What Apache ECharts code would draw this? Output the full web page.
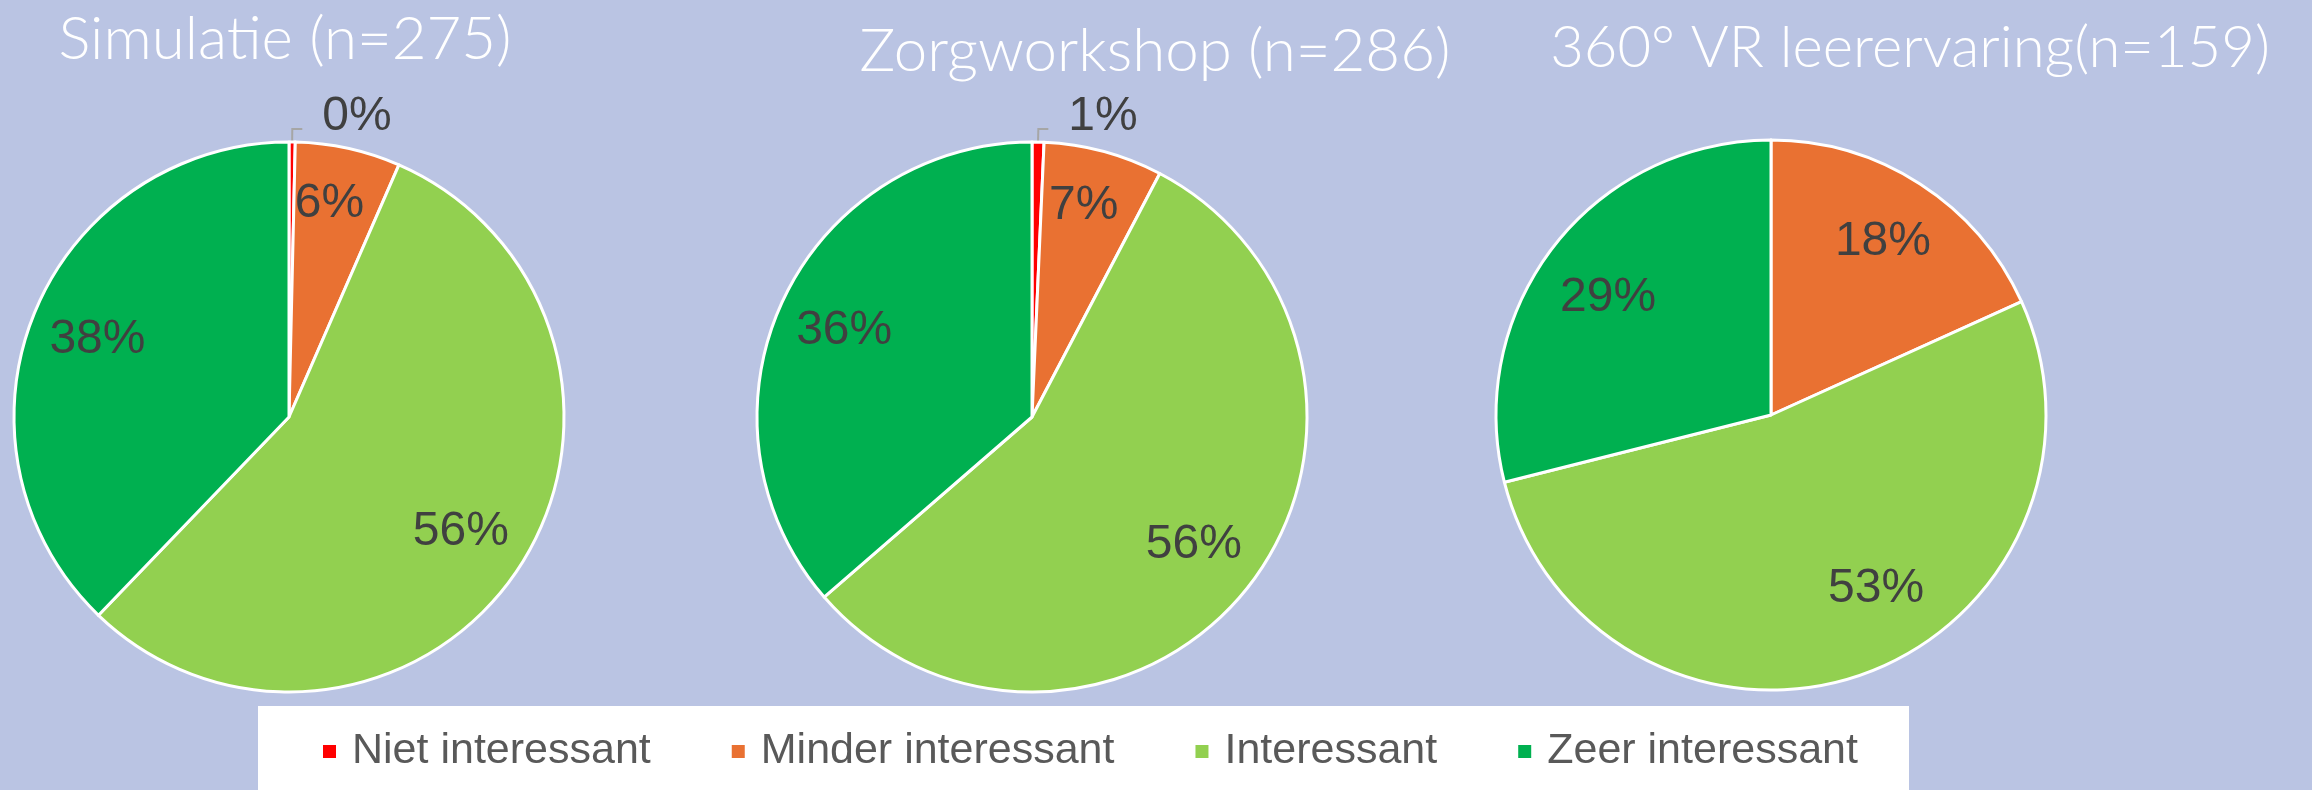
<!DOCTYPE html>
<html>
<head>
  <meta charset="utf8">
  <script src="https://cdn.jsdelivr.net/npm/echarts@6/dist/echarts.min.js"></script>
  <style>
    html, body { margin: 0; padding: 0; background: #BAC4E3; }
    #main { width: 2312px; height: 790px; }
  </style>
</head>
<body>
<div id="main"></div>
<script type="text/javascript">
  // categories and colours
  var categories = ['Niet interessant', 'Minder interessant', 'Interessant', 'Zeer interessant'];
  var colors = ['#FF0000', '#E97132', '#92D050', '#00B050'];

  // titles of the three pies
  var titles = ['Simulatie (n=275)', 'Zorgworkshop (n=286)', '360° VR leerervaring(n=159)'];

  // counts per category
  var simulatie = [1, 17, 153, 104];
  var zorgworkshop = [2, 20, 160, 104];
  var vrLeerervaring = [0, 29, 84, 46];

  var pieValues = [simulatie, zorgworkshop, vrLeerervaring];
  var centers = [[289, 417], [1032, 417], [1771, 415]];
  var titlePos = [[285, 42], [1155, 54], [1910, 51]];
  var R = 275;

  // small label nudges (pie, slice) -> [dx, dy], mimics Excel "best fit"
  var nudges = { '0-1': [-4, -12], '1-1': [-2, -12], '2-2': [37, -21], '2-3': [0, 10] };

  var labelFont = {
    color: '#404040',
    fontFamily: 'Liberation Sans, Arial, sans-serif',
    fontSize: 48
  };

  function pct(p) {
    return Math.round(p.percent) + '%';
  }

  var series = [];
  pieValues.forEach(function (vals, k) {
    var total = vals.reduce(function (a, b) { return a + b; }, 0);
    // main pie: slices + outside labels for tiny slices
    series.push({
      type: 'pie',
      center: centers[k],
      radius: [0, R],
      startAngle: 90,
      clockwise: true,
      avoidLabelOverlap: false,
      animation: false,
      itemStyle: { borderColor: '#ffffff', borderWidth: 3 },
      emphasis: { disabled: true },
      labelLayout: function () {
        return { dx: 12, dy: -12 };
      },
      data: vals.map(function (v, i) {
        var small = v > 0 && v / total < 0.02;
        return {
          name: categories[i],
          value: v,
          itemStyle: { color: colors[i] },
          label: small ? {
            show: true, position: 'outside', formatter: pct,
            distanceToLabelLine: 8,
            color: labelFont.color, fontFamily: labelFont.fontFamily, fontSize: labelFont.fontSize
          } : { show: false },
          labelLine: small ? {
            show: true, length: 13, length2: 10,
            lineStyle: { color: '#A6A6A6', width: 2 }
          } : { show: false }
        };
      })
    });
    // transparent ring used only to place the inside labels further out
    series.push({
      type: 'pie',
      center: centers[k],
      radius: [132, R],
      startAngle: 90,
      clockwise: true,
      silent: true,
      animation: false,
      avoidLabelOverlap: false,
      itemStyle: { color: 'transparent', borderWidth: 0 },
      labelLine: { show: false },
      labelLayout: function (params) {
        var n = nudges[k + '-' + params.dataIndex];
        return n ? { dx: n[0], dy: n[1] } : {};
      },
      data: vals.map(function (v, i) {
        var show = v / total >= 0.02;
        return {
          name: categories[i],
          value: v,
          label: {
            show: show, position: 'inside', formatter: pct,
            color: labelFont.color, fontFamily: labelFont.fontFamily, fontSize: labelFont.fontSize
          }
        };
      })
    });
  });

  var titleList = titles.map(function (t, k) {
    return {
      text: t,
      left: titlePos[k][0],
      top: titlePos[k][1] - 32,
      textAlign: 'center',
      padding: 0,
      textStyle: {
        color: '#ffffff',
        fontFamily: 'Lato, Open Sans, sans-serif',
        fontWeight: 300,
        fontSize: k === 2 ? 58 : 60
      }
    };
  });

  var chart = echarts.init(document.getElementById('main'), null, { renderer: 'canvas' });
  chart.setOption({
    backgroundColor: '#BAC4E3',
    title: titleList,
    graphic: [{
      type: 'rect',
      shape: { x: 258, y: 706, width: 1651, height: 90 },
      style: { fill: '#ffffff' },
      z: 0
    }],
    legend: {
      data: categories,
      left: 321,
      top: 730,
      padding: 0,
      itemWidth: 15,
      itemHeight: 15,
      itemGap: 79,
      icon: 'rect',
      selectedMode: false,
      textStyle: {
        color: '#595959',
        fontFamily: 'Liberation Sans, Arial, sans-serif',
        fontSize: 43,
        padding: [0, 0, 0, 10]
      }
    },
    series: series
  });
</script>
</body>
</html>
